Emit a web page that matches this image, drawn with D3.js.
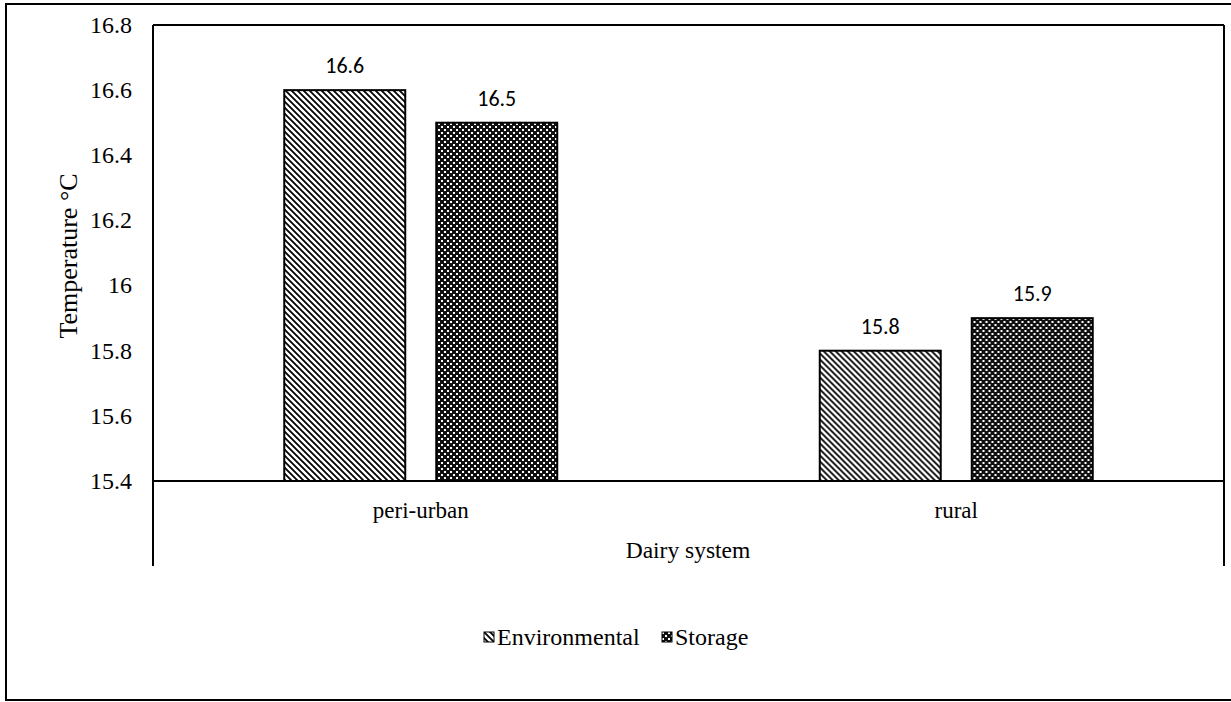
<!DOCTYPE html>
<html>
<head>
<meta charset="utf-8">
<script src="https://cdn.jsdelivr.net/npm/d3@7"></script>
<style>
  html, body { margin: 0; padding: 0; background: #fff; }
  svg { display: block; }
  .serif { font-family: "Liberation Serif", "Times New Roman", serif; }
  .sans { font-family: Carlito, Lato, "Open Sans", sans-serif; }
</style>
</head>
<body>
<svg id="chart" width="1231" height="702"></svg>
<script>
// Mean temperature by dairy system
const categories = ["peri-urban", "rural"];
const seriesNames = ["Environmental", "Storage"];
const environmental = [16.6, 15.8];
const storage = [16.5, 15.9];
const yTicks = [15.4, 15.6, 15.8, 16, 16.2, 16.4, 16.6, 16.8];

const svg = d3.select("#chart");
const W = 1231, H = 702;
const plot = { left: 153, right: 1224, top: 25, bottom: 481 };

// Fill patterns
const defs = svg.append("defs");
const diag = defs.append("pattern")
  .attr("id", "pat-env").attr("patternUnits", "userSpaceOnUse")
  .attr("width", 6).attr("height", 6);
diag.append("rect").attr("width", 6).attr("height", 6).attr("fill", "#fff");
diag.append("path")
  .attr("d", "M-1,-1 L7,7 M-4,2 L2,8 M2,-4 L8,2")
  .attr("stroke", "#000").attr("stroke-width", 1.8);

const check = defs.append("pattern")
  .attr("id", "pat-sto").attr("patternUnits", "userSpaceOnUse")
  .attr("width", 6).attr("height", 6);
check.append("rect").attr("width", 6).attr("height", 6).attr("fill", "#111");
check.append("rect").attr("x", 0).attr("y", 0).attr("width", 2).attr("height", 2).attr("fill", "#fff");
check.append("rect").attr("x", 3).attr("y", 3).attr("width", 2).attr("height", 2).attr("fill", "#fff");

const fills = { Environmental: "url(#pat-env)", Storage: "url(#pat-sto)" };

// Outer frame
svg.append("rect")
  .attr("x", 6).attr("y", 4).attr("width", W + 10).attr("height", 696)
  .attr("fill", "none").attr("stroke", "#000").attr("stroke-width", 2);

// Scales
const x0 = d3.scaleBand().domain(categories).range([plot.left, plot.right]);
const x1 = d3.scaleBand().domain(seriesNames).range([0, x0.bandwidth()])
  .paddingInner(0.204).paddingOuter(0.8635);
const y = d3.scaleLinear().domain([15.4, 16.8]).range([plot.bottom, plot.top]);

// Plot frame: left/right axes extend below the baseline
const frame = svg.append("g").attr("stroke", "#000").attr("stroke-width", 2).attr("fill", "none");
frame.append("line").attr("x1", plot.left).attr("x2", plot.left).attr("y1", plot.top).attr("y2", 566);
frame.append("line").attr("x1", plot.right).attr("x2", plot.right).attr("y1", plot.top).attr("y2", 566);
frame.append("line").attr("x1", plot.left).attr("x2", plot.right).attr("y1", plot.top).attr("y2", plot.top);

// Bars
const rows = categories.map((c, i) => ({
  cat: c,
  vals: [
    { key: "Environmental", v: environmental[i] },
    { key: "Storage", v: storage[i] }
  ]
}));

const groups = svg.append("g").selectAll("g").data(rows).join("g")
  .attr("transform", d => `translate(${x0(d.cat)},0)`);

groups.selectAll("rect").data(d => d.vals).join("rect")
  .attr("x", d => x1(d.key))
  .attr("width", x1.bandwidth())
  .attr("y", d => y(d.v))
  .attr("height", d => y(15.4) - y(d.v))
  .attr("fill", d => fills[d.key])
  .attr("stroke", "#000").attr("stroke-width", 2);

groups.selectAll("text").data(d => d.vals).join("text")
  .attr("class", "sans")
  .attr("x", d => x1(d.key) + x1.bandwidth() / 2)
  .attr("y", d => y(d.v) - 17)
  .attr("text-anchor", "middle")
  .attr("font-size", 22)
  .text(d => d3.format(".1f")(d.v));

// Baseline
svg.append("line")
  .attr("x1", plot.left).attr("x2", plot.right)
  .attr("y1", y(15.4)).attr("y2", y(15.4))
  .attr("stroke", "#000").attr("stroke-width", 2);

// Y tick labels
svg.append("g").selectAll("text").data(yTicks).join("text")
  .attr("class", "serif")
  .attr("x", 132).attr("y", d => y(d)).attr("dy", "0.33em")
  .attr("text-anchor", "end")
  .attr("font-size", 24)
  .text(d => d3.format("")(d));

// Category labels
svg.append("g").selectAll("text").data(categories).join("text")
  .attr("class", "serif")
  .attr("x", d => x0(d) + x0.bandwidth() / 2).attr("y", 518)
  .attr("text-anchor", "middle")
  .attr("font-size", 23)
  .text(d => d);

// Axis titles
svg.append("text")
  .attr("class", "serif")
  .attr("x", 688).attr("y", 558)
  .attr("text-anchor", "middle")
  .attr("font-size", 23.5)
  .text("Dairy system");

svg.append("text")
  .attr("class", "serif")
  .attr("transform", "translate(77,256) rotate(-90)")
  .attr("text-anchor", "middle")
  .attr("font-size", 26)
  .text("Temperature °C");

// Legend
const legendItems = [
  { key: "Environmental", x: 484 },
  { key: "Storage", x: 662 }
];
const lg = svg.append("g").selectAll("g").data(legendItems).join("g")
  .attr("transform", d => `translate(${d.x},632)`);
lg.append("rect").attr("width", 10).attr("height", 10)
  .attr("fill", d => fills[d.key]).attr("stroke", "#000").attr("stroke-width", 1);
lg.append("text")
  .attr("class", "serif")
  .attr("x", 13).attr("y", 13)
  .attr("font-size", 24)
  .text(d => d.key);
</script>
</body>
</html>
